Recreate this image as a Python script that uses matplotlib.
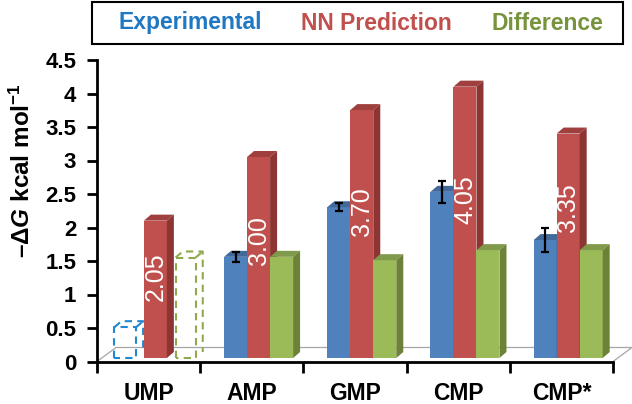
import matplotlib
matplotlib.use("Agg")
import matplotlib.pyplot as plt
import matplotlib.transforms as mtransforms
from matplotlib.patches import Polygon, Rectangle

# data
categories = ["UMP", "AMP", "GMP", "CMP", "CMP*"]
experimental = [None, 1.51, 2.25, 2.48, 1.76]
exp_err = [None, 0.075, 0.06, 0.16, 0.18]
nn_prediction = [2.05, 3.00, 3.70, 4.05, 3.35]
difference = [None, 1.51, 1.46, 1.61, 1.61]
# dashed placeholder boxes for UMP
exp_placeholder = 0.46
diff_placeholder = 1.50
label_pos = [1.22, 1.76, 2.18, 2.37, 2.24]
nn_labels = ["2.05", "3.00", "3.70", "4.05", "3.35"]
y_ticks = [0, 0.5, 1, 1.5, 2, 2.5, 3, 3.5, 4, 4.5]
y_ticklabels = ["0", "0.5", "1", "1.5", "2", "2.5", "3", "3.5", "4", "4.5"]

plt.rcParams['font.family'] = ['Liberation Sans', 'DejaVu Sans']
plt.rcParams['mathtext.fontset'] = 'custom'
plt.rcParams['mathtext.rm'] = 'Liberation Sans:bold'
plt.rcParams['mathtext.it'] = 'Liberation Sans:italic:bold'
plt.rcParams['mathtext.bf'] = 'Liberation Sans:bold'

blue, red, green = '#4F81BD', '#C0504D', '#9BBB59'
tops = {blue: '#41699A', red: '#A0403E', green: '#81994A'}
sides = {blue: '#385D8A', red: '#8C3533', green: '#6B8238'}

W, H = 632, 404
fig = plt.figure(figsize=(W / 100, H / 100), dpi=100)
ax = fig.add_axes([97 / W, (H - 361.5) / H, 516 / W, 301.5 / H])
ax.set_xlim(-0.5, 4.5)
ax.set_ylim(0, 4.5)

# pixel -> data helpers
px_x = 5 / 516
px_y = 4.5 / 301.5

# bars sit a bit back on the floor
shift = mtransforms.ScaledTranslation(4.75 / 100, 3.5 / 100, fig.dpi_scale_trans)
tr = ax.transData + shift

ddx, ddy = 7 * px_x, 6 * px_y  # bar depth

# floor
fdx, fdy = 19 * px_x, 14 * px_y
floor_x = [-0.5, -0.5 + fdx, 4.5 + fdx, 4.5]
floor_y = [0, fdy, fdy, 0]
ax.plot(floor_x, floor_y, color='#A6A6A6', lw=0.9, clip_on=False, zorder=1)

bw = 0.223


def bar3d(x0, v, c, z):
    ax.bar(x0, v, width=bw, align='edge', color=c, edgecolor='none',
           transform=tr, zorder=z)
    top = Polygon([(x0, v), (x0 + bw, v), (x0 + bw + ddx, v + ddy), (x0 + ddx, v + ddy)],
                  closed=True, facecolor=tops[c], edgecolor='none', transform=tr, zorder=z)
    side = Polygon([(x0 + bw, 0), (x0 + bw + ddx, ddy), (x0 + bw + ddx, v + ddy), (x0 + bw, v)],
                   closed=True, facecolor=sides[c], edgecolor='none', transform=tr, zorder=z)
    ax.add_patch(top)
    ax.add_patch(side)


def dashed_box(x0, w, v, c):
    kw = dict(color=c, lw=1.5, ls=(0, (3.5, 2.5)), transform=tr, clip_on=False, zorder=2)
    ax.plot([x0, x0, x0 + w, x0 + w, x0], [0, v, v, 0, 0], **kw)
    ax.plot([x0, x0 + ddx, x0 + w + ddx, x0 + w + ddx],
            [v, v + ddy, v + ddy, ddy], **kw)
    ax.plot([x0 + w, x0 + w + ddx], [v, v + ddy], **kw)


for i, cat in enumerate(categories):
    red_x = i - 0.092
    if experimental[i] is None:
        dashed_box(red_x - 0.075 - 0.21, 0.21, exp_placeholder, '#1F88D0')
        bar3d(red_x, nn_prediction[i], red, 3)
        dashed_box(red_x + bw + 0.085, 0.195, diff_placeholder, '#8FAA4E')
    else:
        bar3d(red_x - bw, experimental[i], blue, 2)
        bar3d(red_x, nn_prediction[i], red, 3)
        bar3d(red_x + bw, difference[i], green, 4)
        ax.errorbar(red_x - bw / 2, experimental[i], yerr=exp_err[i], fmt='none',
                    ecolor='black', elinewidth=1.6, capsize=3, capthick=1.6,
                    transform=tr, zorder=6)
    ax.text(red_x + bw / 2, label_pos[i], nn_labels[i], rotation=90, color='white',
            fontsize=18, ha='center', va='center', transform=tr, zorder=7)

# axes styling
for s in ['top', 'right']:
    ax.spines[s].set_visible(False)
for s in ['left', 'bottom']:
    ax.spines[s].set_linewidth(2)
    ax.spines[s].set_zorder(8)
ax.set_yticks(y_ticks)
ax.set_yticklabels(y_ticklabels, fontsize=16, fontweight='bold')
ax.tick_params(axis='y', direction='out', length=7, width=2, pad=8)
ax.set_xticks([-0.5, 0.5, 1.5, 2.5, 3.5, 4.5])
ax.set_xticklabels([])
ax.tick_params(axis='x', which='major', direction='out', length=8, width=2)
ax.set_xticks(range(len(categories)), minor=True)
ax.set_xticklabels(categories, minor=True, fontsize=16.5, fontweight='bold')
ax.tick_params(axis='x', which='minor', length=0, pad=15)
ax.patch.set_visible(False)

fig.text(22 / W, 1 - 171 / H, r'–$\mathit{ΔG}$ kcal mol$^{-1}$', rotation=90,
         ha='center', va='center', fontsize=17.5, fontweight='bold')

# legend box
fig.patches.append(Rectangle((92 / W, 1 - 44 / H), 531 / W, 42 / H, transform=fig.transFigure,
                             facecolor='white', edgecolor='black', lw=1.5))
for txt, xc, col in [("Experimental", 190, '#1F78C1'), ("NN Prediction", 376, '#C0504D'),
                     ("Difference", 547, '#77933C')]:
    fig.text(xc / W, 1 - 23 / H, txt, ha='center', va='center', fontsize=16.5,
             fontweight='bold', color=col)

fig.savefig("out.png", dpi=100)
